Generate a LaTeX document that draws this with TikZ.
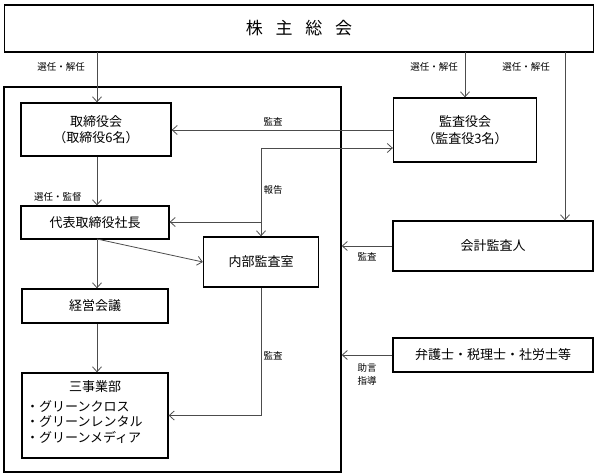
\documentclass[tikz,border=0pt]{standalone}
\usepackage{fontspec}
\setmainfont{Noto Sans CJK JP}
\usetikzlibrary{arrows.meta}
\begin{document}
\begin{tikzpicture}[x=1pt,y=-1pt,
  box/.style={draw=black,line width=1.3pt,rectangle,inner sep=0pt,align=center,font=\fontsize{13}{16.5}\selectfont},
  conn/.style={draw=black!70,line width=0.8pt},
  arr/.style={conn,-{Straight Barb[length=5pt,width=9pt,line width=0.8pt]}},
  lbl/.style={font=\fontsize{9.5}{13}\selectfont,inner sep=0pt,align=center}]
\useasboundingbox (0,0) rectangle (597,476);
% nodes
\node[box,minimum width=589,minimum height=47,font=\fontsize{17}{20}\selectfont] (top) at (299,28.5) {株\hspace{0.75em}主\hspace{0.75em}総\hspace{0.75em}会};
\node[draw=black,line width=1.5pt,minimum width=337,minimum height=385,inner sep=0pt] (frame) at (172.5,279.5) {};
\node[box,minimum width=150,minimum height=53] (board) at (96,129.5) {取締役会\\（取締役6名）};
\node[box,minimum width=148,minimum height=33] (pres) at (95,222.5) {代表取締役社長};
\node[box,minimum width=115,minimum height=50] (audit) at (261,262) {内部監査室};
\node[box,minimum width=146,minimum height=34] (mgmt) at (95,306) {経営会議};
\node[box,minimum width=146,minimum height=85] (div) at (95,415.5) {};
\node[font=\fontsize{13}{16}\selectfont,inner sep=0pt] (divt) at (95,387) {三事業部};
\node[font=\fontsize{13}{15.5}\selectfont,inner sep=0pt,align=left,anchor=west] (divl) at (26,422) {・グリーンクロス\\・グリーンレンタル\\・グリーンメディア};
\node[box,minimum width=143,minimum height=64] (kansa) at (465,130) {監査役会\\（監査役3名）};
\node[box,minimum width=200,minimum height=50] (acct) at (493,246) {会計監査人};
\node[box,minimum width=200,minimum height=34] (prof) at (493,355) {弁護士・税理士・社労士等};
% coordinates
\coordinate (a1) at (97,52);
\coordinate (a2) at (465,52);
\coordinate (a3) at (565,52);
\coordinate (j1) at (261,148);
\coordinate (j2) at (261,222);
\coordinate (p1) at (97,239);
% connectors
\draw[arr] (a1) -- (a1 |- board.north);
\draw[arr] (a2) -- (a2 |- kansa.north);
\draw[arr] (a3) -- (a3 |- acct.north);
\draw[arr] (board.south -| p1) -- (pres.north -| p1);
\draw[arr] (kansa.west) -- (kansa.west -| board.east);
\draw[arr] (j1) -- (j1 -| kansa.west);
\draw[arr] (j1) -- (audit.north);
\draw[arr] (j2) -- (j2 -| pres.east);
\draw[arr] (p1) -- (mgmt.north -| p1);
\draw[arr] (p1) -- (audit.west);
\draw[arr] (mgmt.south -| p1) -- (div.north -| p1);
\draw[arr] (audit.south) |- (div.east);
\draw[arr] (acct.west) -- (acct.west -| frame.east);
\draw[arr] (prof.west) -- (prof.west -| frame.east);
% labels
\node[lbl] (l1) at (61,67) {選任・解任};
\node[lbl] (l2) at (434,67) {選任・解任};
\node[lbl] (l3) at (526,67) {選任・解任};
\node[lbl] (l4) at (58,197) {選任・監督};
\node[lbl] (l5) at (273,122) {監査};
\node[lbl] (l6) at (273,190) {報告};
\node[lbl] (l7) at (367,257) {監査};
\node[lbl] (l8) at (367,374) {助言\\指導};
\node[lbl] (l9) at (273,356) {監査};
\end{tikzpicture}
\end{document}
